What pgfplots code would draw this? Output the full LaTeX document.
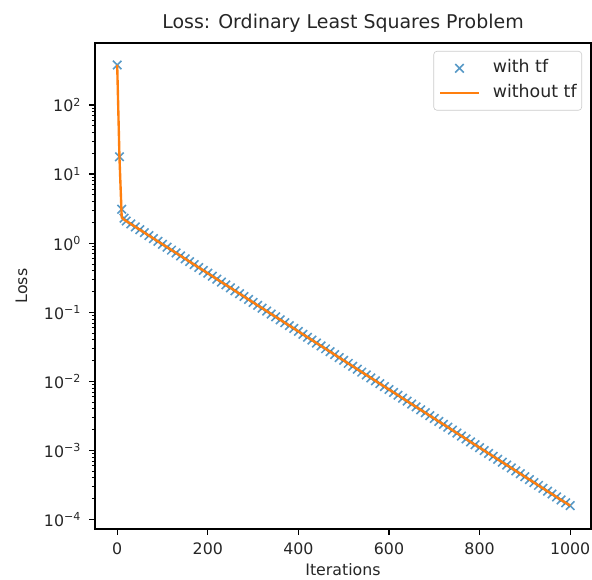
\documentclass[border=0pt]{standalone}
\usepackage{fontspec}
\setmainfont{DejaVu Sans}
\usepackage{pgfplots}
\pgfplotsset{compat=1.18}
\usepackage{pgfplotstable}
\definecolor{C0}{HTML}{1F77B4}
\definecolor{C1}{HTML}{FF7F0E}
\newlength\px \setlength\px{0.633pt}
\pgfplotsset{
  crosslegend/.style={legend image code/.code={\draw[##1] plot coordinates {(12.35pt,0pt)};}},
  linelegend/.style={legend image code/.code={\draw[##1] (0pt,0pt) -- (24.7pt,0pt);}},
}

\pgfplotstableread{
it tf notf
0 380 380
5 17.8 17.5
10 3.1 2.35
15 2.3 2.2
20 2.094 2.094
30 1.901 1.901
40 1.725 1.725
50 1.567 1.567
60 1.422 1.422
70 1.291 1.291
80 1.171 1.171
90 1.063 1.063
100 0.965 0.965
110 0.876 0.876
120 0.795 0.795
130 0.722 0.722
140 0.655 0.655
150 0.595 0.595
160 0.540 0.540
170 0.490 0.490
180 0.445 0.445
190 0.404 0.404
200 0.367 0.367
210 0.333 0.333
220 0.302 0.302
230 0.274 0.274
240 0.249 0.249
250 0.226 0.226
260 0.205 0.205
270 0.186 0.186
280 0.169 0.169
290 0.153 0.153
300 0.139 0.139
310 0.126 0.126
320 0.1147 0.1147
330 0.1041 0.1041
340 0.0945 0.0945
350 0.0858 0.0858
360 0.0779 0.0779
370 0.0707 0.0707
380 0.0642 0.0642
390 0.0583 0.0583
400 0.0529 0.0529
410 0.0480 0.0480
420 0.0436 0.0436
430 0.0396 0.0396
440 0.0359 0.0359
450 0.0326 0.0326
460 0.0296 0.0296
470 0.0269 0.0269
480 0.0244 0.0244
490 0.0221 0.0221
500 0.0201 0.0201
510 0.0182 0.0182
520 0.01655 0.01655
530 0.01502 0.01502
540 0.01363 0.01363
550 0.01238 0.01238
560 0.01123 0.01123
570 0.01020 0.01020
580 0.00926 0.00926
590 0.00840 0.00840
600 0.00763 0.00763
610 0.00693 0.00693
620 0.00629 0.00629
630 0.00570 0.00570
640 0.00518 0.00518
650 0.00470 0.00470
660 0.00427 0.00427
670 0.00387 0.00387
680 0.00352 0.00352
690 0.00319 0.00319
700 0.00290 0.00290
710 0.00263 0.00263
720 0.00239 0.00239
730 0.00217 0.00217
740 0.00197 0.00197
750 0.00178 0.00178
760 0.00162 0.00162
770 0.00147 0.00147
780 0.00133 0.00133
790 0.00121 0.00121
800 0.00110 0.00110
810 0.000997 0.000997
820 0.000905 0.000905
830 0.000822 0.000822
840 0.000746 0.000746
850 0.000677 0.000677
860 0.000615 0.000615
870 0.000558 0.000558
880 0.000507 0.000507
890 0.000460 0.000460
900 0.000417 0.000417
910 0.000379 0.000379
920 0.000344 0.000344
930 0.000312 0.000312
940 0.000283 0.000283
950 0.000257 0.000257
960 0.000234 0.000234
970 0.000212 0.000212
980 0.000192 0.000192
990 0.000175 0.000175
1000 0.000159 0.000159
}\losstab

\begin{document}
\begin{tikzpicture}
\begin{axis}[
  name=ax,
  scale only axis,
  width=496\px, height=486\px,
  xmin=-49, xmax=1046,
  ymode=log, ymin=7.3e-5, ymax=790,
  clip marker paths=true,
  xtick={0,200,400,600,800,1000},
  ytick={1e-4,1e-3,1e-2,1e-1,1,10,100},
  yticklabels={10\textsuperscript{−4},10\textsuperscript{−3},10\textsuperscript{−2},10\textsuperscript{−1},10\textsuperscript{0},10\textsuperscript{1},10\textsuperscript{2}},
  tick align=outside, tick pos=left,
  major tick length=3.5pt, minor tick length=2pt,
  every major tick/.style={black, line width=0.8pt},
  every minor tick/.style={black, line width=0.6pt},
  axis line style={line width=0.8pt},
  /pgf/number format/assume math mode=true,
  /pgf/number format/1000 sep={},
  tick label style={font=\fontsize{10}{12}\selectfont, text=black!85},
  xticklabel style={anchor=base, yshift=-26\px+3.5pt},
  yticklabel style={anchor=east, inner sep=0pt, xshift=-8\px},
  xlabel={Iterations}, ylabel={Loss},
  label style={font=\fontsize{10}{12}\selectfont, text=black!85},
  xlabel style={at={(axis description cs:0.5,-0.0947)}, anchor=base},
  ylabel style={at={(axis description cs:-0.137,0.5)}, anchor=base, rotate=0},
  title={Loss: Ordinary Least Squares Problem},
  title style={font=\fontsize{12}{14}\selectfont, text=black!85, at={(axis description cs:0.5,1.011)}, anchor=base},
  legend cell align=left,
  legend style={at={(axis description cs:1,1)}, anchor=north east, xshift=-9\px, yshift=-8\px,
    draw=black!20, rounded corners=2pt, fill=white, fill opacity=0.8, text opacity=1,
    font=\fontsize{11}{13}\selectfont, inner xsep=3.2pt, inner ysep=5.5pt, row sep=5.3pt, column sep=8pt,
    nodes={inner sep=0pt, text height=8pt, text depth=2.5pt, text=black!85}},
]
\addplot[only marks, mark=x, mark size=3.8pt, C0, mark options={line width=1pt, opacity=0.75}, crosslegend]
  table[x=it, y=tf] {\losstab};
\addlegendentry{with tf}
\addplot[C1, line width=1.5pt, mark=none, linelegend]
  table[x=it, y=notf] {\losstab};
\addlegendentry{without tf}
\end{axis}
\pgfresetboundingbox
\path[use as bounding box] ([xshift=-95\px,yshift=-51\px]ax.south west) rectangle ([xshift=1\px,yshift=43\px]ax.north east);
\end{tikzpicture}
\end{document}
